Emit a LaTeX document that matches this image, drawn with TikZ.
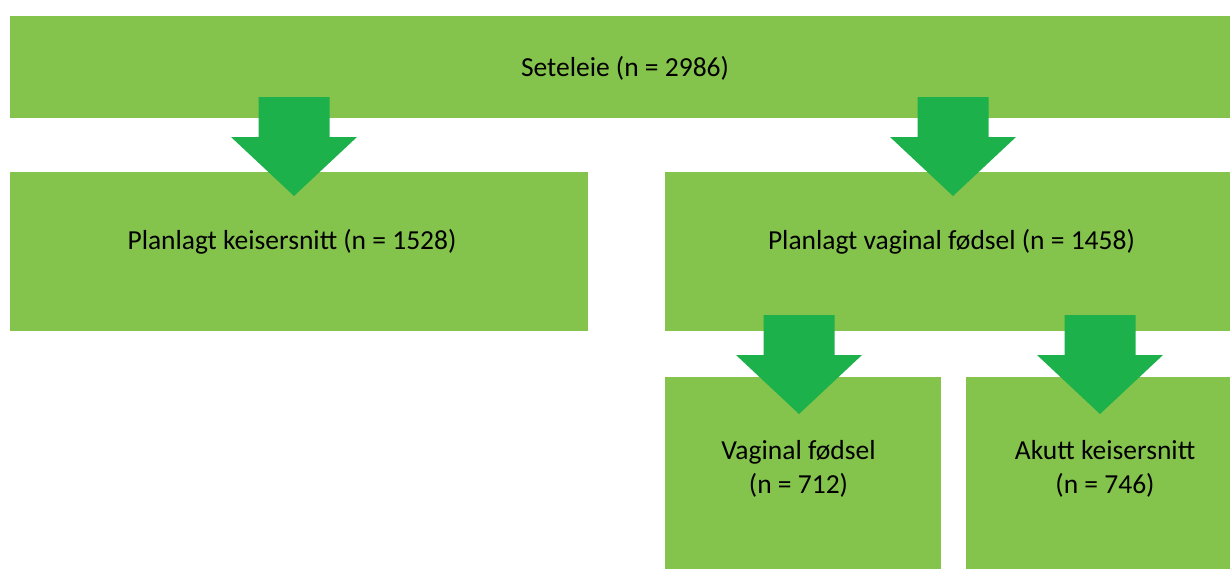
\documentclass[tikz,border=0pt]{standalone}
\usepackage{fontspec}
\setmainfont{Carlito}
\usetikzlibrary{calc}
\definecolor{boxgreen}{RGB}{132,195,76}
\definecolor{arrowgreen}{RGB}{29,177,75}
\begin{document}
\begin{tikzpicture}[x=1pt,y=-1pt,
  box/.style={fill=boxgreen,draw=white,line width=0.6pt,anchor=north west,inner sep=0pt,outer sep=0pt},
  lbl/.style={inner sep=0pt,font=\fontsize{27.5}{34}\selectfont,align=center,text=black},
  blockarrow/.style={fill=arrowgreen,draw=none}]
\useasboundingbox (0,0) rectangle (1230,568);
% boxes
\node[box,minimum width=1221pt,minimum height=103pt] (top) at (9,15) {};
\node[box,minimum width=579pt,minimum height=160pt] (left) at (9,171) {};
\node[box,minimum width=580pt,minimum height=160pt] (right) at (664,171) {};
\node[box,minimum width=277pt,minimum height=200pt] (bl) at (664,376) {};
\node[box,minimum width=275pt,minimum height=200pt] (br) at (965,376) {};
% block arrows
\newcommand{\myblockarrow}[3]{% center x, top y, name
  \coordinate (#3) at (#1,#2);
  \fill[blockarrow] ($(#3)+(-35.5,0)$) -- ($(#3)+(35.5,0)$) -- ($(#3)+(35.5,40)$) -- ($(#3)+(63,40)$)
    -- ($(#3)+(0,99)$) -- ($(#3)+(-63,40)$) -- ($(#3)+(-35.5,40)$) -- cycle;}
\myblockarrow{294}{97}{a1}
\myblockarrow{953}{97}{a2}
\myblockarrow{799}{315}{a3}
\myblockarrow{1100}{315}{a4}
% labels
\node[lbl] (t0) at (625,68.5) {Seteleie (n = 2986)};
\node[lbl] (t1) at (292,241.5) {Planlagt keisersnitt (n = 1528)};
\node[lbl] (t2) at (951.5,241.5) {Planlagt vaginal fødsel (n = 1458)};
\node[lbl] (t3) at (798.5,468.5) {Vaginal fødsel\\(n = 712)};
\node[lbl] (t4) at (1105,468.5) {Akutt keisersnitt\\(n = 746)};
\end{tikzpicture}
\end{document}
